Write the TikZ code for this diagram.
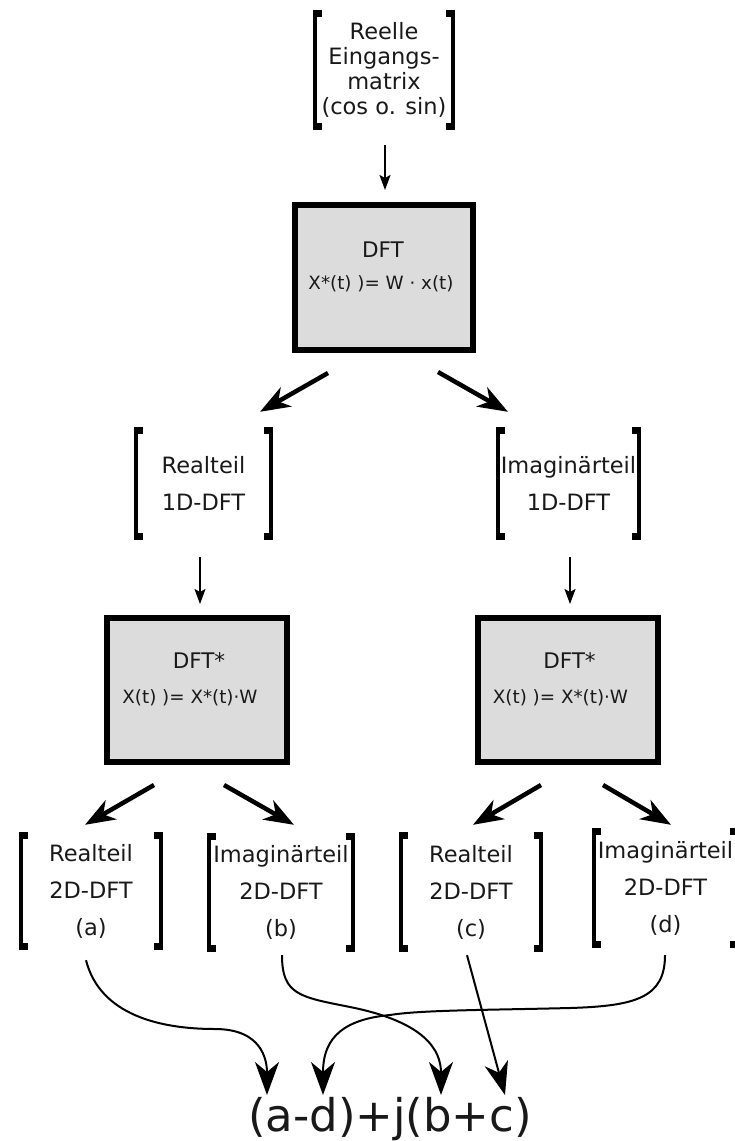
\documentclass[tikz,border=0pt]{standalone}
\usepackage{fontspec}
\setmainfont{DejaVu Sans}
\usetikzlibrary{arrows.meta}
\definecolor{boxgray}{RGB}{220,220,220}
\definecolor{ink}{RGB}{25,25,25}

% square brackets drawn on the left and right edge of a node
\newcommand\drawbrackets[1]{%
  \draw[brkline] (#1.north west) -- (#1.south west);
  \draw[brkline] (#1.north east) -- (#1.south east);
  \fill ([xshift=-2pt]#1.north west) rectangle ([xshift=7pt,yshift=-7pt]#1.north west);
  \fill ([xshift=-2pt]#1.south west) rectangle ([xshift=7pt,yshift=7pt]#1.south west);
  \fill ([xshift=2pt]#1.north east) rectangle ([xshift=-7pt,yshift=-7pt]#1.north east);
  \fill ([xshift=2pt]#1.south east) rectangle ([xshift=-7pt,yshift=7pt]#1.south east);
}

\begin{document}
\begin{tikzpicture}[x=1pt,y=-1pt,
  lbl/.style={inner sep=0pt, align=center, text=ink,
    font=\fontsize{22.5}{37}\selectfont},
  brkline/.style={line width=4pt},
  proc/.style={draw=black, line width=6pt, fill=boxgray, inner sep=0pt,
    minimum width=178pt, minimum height=145pt},
  title/.style={anchor=base, inner sep=0pt, text=ink, font=\fontsize{21.5}{21.5}\selectfont},
  formula/.style={anchor=base, inner sep=0pt, text=ink, font=\fontsize{18.3}{18.3}\selectfont},
  thinarr/.style={line width=2pt, -{Stealth[length=15pt,width=11pt,inset=3pt]}},
  bigarr/.style={line width=4.5pt, -{Stealth[length=30pt,width=22pt,inset=9pt]}},
  curvearr/.style={line width=2pt, -{Stealth[length=33pt,width=24pt,inset=10pt]}},
]
\useasboundingbox (0,0) rectangle (735,1141);
\clip (0,0) rectangle (735,1141);

% input matrix
\node[lbl, minimum width=138pt, minimum height=120pt,
      font=\fontsize{22.5}{25}\selectfont] (inp) at (384,70)
      {Reelle\\Eingangs-\\matrix\\(cos o. sin)};

% first transform
\node[proc] (dft) at (383.5,277.5) {};
\node[title] (dftT) at (383,257) {DFT};
\node[formula] (dftF) at (381,289) {X*(t) )= W · x(t)};

% 1D results
\node[lbl, minimum width=135pt, minimum height=113pt] (re1) at (203.5,483.5) {Realteil\\1D-DFT};
\node[lbl, minimum width=141pt, minimum height=113pt] (im1) at (568.5,483.5) {Imaginärteil\\1D-DFT};

% second transforms
\node[proc, minimum width=180pt, minimum height=144pt] (dftl) at (197,690) {};
\node[title] (dftlT) at (199,668) {DFT*};
\node[formula] (dftlF) at (190,703) {X(t) )= X*(t)·W};
\node[proc, minimum width=180pt, minimum height=144pt] (dftr) at (567.5,690) {};
\node[title] (dftrT) at (569.5,668) {DFT*};
\node[formula] (dftrF) at (560.5,703) {X(t) )= X*(t)·W};

% 2D results
\node[lbl, minimum width=139.5pt, minimum height=118pt] (a) at (91,891) {Realteil\\2D-DFT\\(a)};
\node[lbl, minimum width=143.5pt, minimum height=119pt] (b) at (281,892.5) {Imaginärteil\\2D-DFT\\(b)};
\node[lbl, minimum width=140pt, minimum height=120pt] (c) at (471,892) {Realteil\\2D-DFT\\(c)};
\node[lbl, minimum width=143pt, minimum height=120pt] (d) at (665.5,888) {Imaginärteil\\2D-DFT\\(d)};

% combined result
\node[anchor=base, inner sep=0pt, text=ink, font=\fontsize{45}{45}\selectfont] (res) at (390,1131) {(a-d)+j(b+c)};

\drawbrackets{inp}
\drawbrackets{re1}
\drawbrackets{im1}
\drawbrackets{a}
\drawbrackets{b}
\drawbrackets{c}
\drawbrackets{d}

% straight connectors
\draw[thinarr] ([shift={(1,15)}]inp.south) -- ([shift={(1.5,-12)}]dft.north);
\draw[bigarr] ([shift={(-55.5,20)}]dft.south) -- ([shift={(56.5,-15)}]re1.north);
\draw[bigarr] ([shift={(54.5,19)}]dft.south) -- ([shift={(-60.5,-15)}]im1.north);
\draw[thinarr] ([shift={(-3.5,17)}]re1.south) -- ([shift={(3,-11)}]dftl.north);
\draw[thinarr] ([shift={(1.5,17)}]im1.south) -- ([shift={(2.5,-11)}]dftr.north);
\draw[bigarr] ([shift={(-43,20)}]dftl.south) -- ([shift={(-6,-7)}]a.north);
\draw[bigarr] ([shift={(27,20)}]dftl.south) -- ([shift={(13,-8)}]b.north);
\draw[bigarr] ([shift={(-26.5,20)}]dftr.south) -- ([shift={(2,-7)}]c.north);
\draw[bigarr] ([shift={(35.5,20)}]dftr.south) -- ([shift={(5.5,-3)}]d.north);

% combining connectors
\draw[curvearr] ([shift={(-5,10)}]a.south)
  .. controls (100,1015) and (160,1029) .. (215,1029)
  .. controls (262,1029) and (267,1060) .. ([shift={(-123,-36)}]res.base);
\draw[curvearr] ([shift={(1,3)}]b.south)
  .. controls (282,995) and (300,997) .. (350,1007)
  .. controls (425,1022) and (441,1050) .. ([shift={(51,-36)}]res.base);
\draw[curvearr] ([shift={(-4,3)}]c.south) -- ([shift={(115,-36)}]res.base);
\draw[curvearr] ([shift={(-0.5,7)}]d.south)
  .. controls (665,998) and (635,1006) .. (570,1008)
  .. controls (490,1010) and (420,1010) .. (390,1015)
  .. controls (335,1020) and (323,1045) .. ([shift={(-67,-36)}]res.base);
\end{tikzpicture}
\end{document}
